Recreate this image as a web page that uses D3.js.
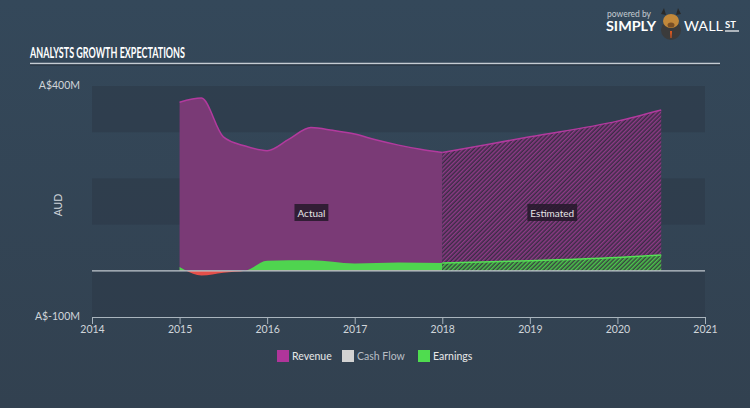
<!DOCTYPE html>
<html><head><meta charset="utf-8">
<script src="https://cdn.jsdelivr.net/npm/d3@7"></script>
<style>
html,body{margin:0;padding:0;background:#344454;}
svg{display:block;}
text{font-family:Lato,"Open Sans",sans-serif;}
</style></head>
<body>
<script>
// ---- data (A$ millions) ----
const revenueActualYears = [2015.0, 2015.25, 2015.5, 2015.75, 2016.0, 2016.25, 2016.5, 2016.75, 2017.0, 2017.25, 2017.5, 2017.75, 2018.0];
const revenueActual      = [365, 374, 290, 270, 260, 285, 310, 304, 296, 283, 272, 263, 256];
const earningsActualYears = [2015.0, 2015.25, 2015.5, 2015.75, 2016.0, 2016.5, 2017.0, 2017.5, 2018.0];
const earningsActual      = [8, -10, -4, 0, 22, 23, 16, 18, 17];
const estimateYears    = [2018.0, 2019.0, 2020.0, 2020.5];
const revenueEstimate  = [256, 290, 324, 348];
const earningsEstimate = [17, 22, 29, 34];
const xTicks = [2014, 2015, 2016, 2017, 2018, 2019, 2020, 2021];
const yTickLabels = ["A$400M", "A$-100M"];
const yTickValues = [400, -100];
const legendNames = ["Revenue", "Cash Flow", "Earnings"];
const legendColors = ["#b0359a", "#d2d2d2", "#4fdc4f"];

const W = 750, H = 408;
const svg = d3.select("body").append("svg").attr("width", W).attr("height", H);
const defs = svg.append("defs");

const bg = defs.append("linearGradient").attr("id","bg").attr("x1",0).attr("y1",0).attr("x2",0).attr("y2",1);
bg.append("stop").attr("offset","0%").attr("stop-color","#34485a");
bg.append("stop").attr("offset","100%").attr("stop-color","#324150");
svg.append("rect").attr("width",W).attr("height",H).attr("fill","url(#bg)");

function hatch(id, base, stripe){
  const p = defs.append("pattern").attr("id",id).attr("patternUnits","userSpaceOnUse")
    .attr("width",3).attr("height",3).attr("patternTransform","rotate(45)");
  p.append("rect").attr("width",3).attr("height",3).attr("fill",base);
  p.append("rect").attr("width",1.5).attr("height",3).attr("fill",stripe);
}
hatch("hatchRev","#3a2c45","#8e3a86");
hatch("hatchEarn","#38453f","#4cc84c");

const x = d3.scaleLinear().domain([2014, 2021]).range([92, 705]);
const y = d3.scaleLinear().domain([-100, 400]).range([317, 86]);

// bands
const bandEdges = [[400,300],[200,100],[0,-100]];
svg.append("g").selectAll("rect").data(bandEdges).join("rect")
  .attr("x", x(2014)).attr("width", x(2021)-x(2014))
  .attr("y", d=>y(d[0])).attr("height", d=>y(d[1])-y(d[0]))
  .attr("fill","#2c3947").attr("opacity",0.55);

const curve = d3.curveMonotoneX;
const revA = revenueActualYears.map((t,i)=>({t, v:revenueActual[i]}));
const earnA = earningsActualYears.map((t,i)=>({t, v:earningsActual[i]}));
const revE = estimateYears.map((t,i)=>({t, v:revenueEstimate[i]}));
const earnE = estimateYears.map((t,i)=>({t, v:earningsEstimate[i]}));

const area = d3.area().x(d=>x(d.t)).y0(y(0)).y1(d=>y(d.v)).curve(curve);
const line = d3.line().x(d=>x(d.t)).y(d=>y(d.v)).curve(curve);

// revenue
svg.append("path").datum(revA).attr("d",area).attr("fill","#7a3a76");
svg.append("path").datum(revE).attr("d",area).attr("fill","url(#hatchRev)");
svg.append("path").datum(revA).attr("d",line).attr("fill","none").attr("stroke","#b23a9e").attr("stroke-width",1.5);
svg.append("path").datum(revE).attr("d",line).attr("fill","none").attr("stroke","#b23a9e").attr("stroke-width",1.5);

// earnings: split positive / negative with clip
const zeroY = y(0);
defs.append("clipPath").attr("id","pos").append("rect").attr("x",0).attr("y",0).attr("width",W).attr("height",zeroY);
defs.append("clipPath").attr("id","neg").append("rect").attr("x",0).attr("y",zeroY).attr("width",W).attr("height",H-zeroY);
svg.append("path").datum(earnA).attr("d",area).attr("fill","#4fd44f").attr("clip-path","url(#pos)");
svg.append("path").datum(earnA).attr("d",area).attr("fill","#e5504a").attr("clip-path","url(#neg)");
svg.append("path").datum(earnE).attr("d",area).attr("fill","url(#hatchEarn)");
svg.append("path").datum(earnE).attr("d",line).attr("fill","none").attr("stroke","#55e055").attr("stroke-width",1.5);

// zero line
svg.append("line").attr("x1",x(2014)).attr("x2",x(2021)).attr("y1",zeroY).attr("y2",zeroY)
  .attr("stroke","#c2c9cf").attr("stroke-width",1.2);

// Actual / Estimated labels
function tag(cx, cy, txt){
  const g = svg.append("g");
  const t = g.append("text").attr("x",cx).attr("y",cy+4).attr("text-anchor","middle")
    .attr("font-size",10).attr("fill","#e6e6e6").text(txt);
  const bb = t.node().getBBox();
  g.insert("rect","text").attr("x",bb.x-3).attr("y",cy-8.5).attr("width",bb.width+6).attr("height",17)
    .attr("fill","#24192a").attr("opacity",0.85);
}
tag(x(2016.5)+0.5, 212.5, "Actual");
tag(x(2019.25)+0.5, 212.5, "Estimated");

// x axis
const xAxis = d3.axisBottom(x).tickValues(xTicks).tickFormat(d3.format("d")).tickSize(7).tickSizeOuter(0);
const gx = svg.append("g").attr("transform","translate(0,317)").call(xAxis);
gx.select(".domain").attr("stroke","#a9b4bd").attr("stroke-width",1.2);
gx.selectAll(".tick line").attr("stroke","#a9b4bd");
gx.selectAll(".tick text").attr("fill","#d0d5da").attr("font-size",10.5).attr("dy","0.55em")
  .attr("font-family","Lato,sans-serif");

// y labels
svg.append("g").selectAll("text").data(yTickValues).join("text")
  .attr("x",80).attr("y",d=>y(d)+3).attr("text-anchor","end")
  .attr("font-size",10.5).attr("fill","#d0d5da").text((d,i)=>yTickLabels[i]);
svg.append("text").attr("transform","translate(62,205) rotate(-90)").attr("text-anchor","middle")
  .attr("font-size",10.5).attr("fill","#d0d5da").text("AUD");

// title
svg.append("text").attr("x",30).attr("y",58).attr("font-family","'Liberation Sans Narrow','DejaVu Sans Condensed',sans-serif")
  .attr("font-weight","bold").attr("font-size",15).attr("fill","#ffffff")
  .attr("textLength",155).attr("lengthAdjust","spacingAndGlyphs").text("ANALYSTS GROWTH EXPECTATIONS");
svg.append("line").attr("x1",30).attr("x2",720).attr("y1",63.5).attr("y2",63.5).attr("stroke","#c5ccd2").attr("stroke-width",1.3);
svg.append("line").attr("x1",30).attr("x2",720).attr("y1",65).attr("y2",65).attr("stroke","#1f2a34").attr("stroke-width",0.8);

// legend
const lg = svg.append("g");
const legX = [277, 342, 418];
legendNames.forEach((n,i)=>{
  lg.append("rect").attr("x",legX[i]).attr("y",350).attr("width",12).attr("height",12).attr("fill",legendColors[i]);
  lg.append("text").attr("x",legX[i]+15).attr("y",360).attr("font-size",10.5)
    .attr("fill", i===1 ? "#b8bec4" : "#e8e8e8").text(n);
});

// logo
const logo = svg.append("g");
logo.append("text").attr("x",607).attr("y",17).attr("font-size",8.5).attr("fill","#c5cbd1").text("powered by");
logo.append("text").attr("x",606).attr("y",31).attr("font-size",12.5).attr("font-weight","bold")
  .attr("fill","#ffffff").attr("textLength",50).attr("lengthAdjust","spacingAndGlyphs").text("SIMPLY");
logo.append("circle").attr("cx",671).attr("cy",30).attr("r",10).attr("fill","#3b3b3b");
logo.append("ellipse").attr("cx",671).attr("cy",21).attr("rx",8).attr("ry",7).attr("fill","#c2883a");
logo.append("path").attr("d","M661,14 L664,8 L666,15 Z M681,14 L678,8 L676,15 Z").attr("fill","#2a2a2a");
logo.append("ellipse").attr("cx",671).attr("cy",25).attr("rx",3.5).attr("ry",2.5).attr("fill","#7a4f25");
logo.append("path").attr("d","M670,31 L672,31 L671.5,38 L670.5,38 Z").attr("fill","#e05a20");
logo.append("text").attr("x",684).attr("y",31).attr("font-size",12.5).attr("fill","#ffffff")
  .attr("textLength",39).attr("lengthAdjust","spacingAndGlyphs").text("WALL");
logo.append("text").attr("x",725).attr("y",28).attr("font-size",9.5).attr("font-weight","bold").attr("fill","#ffffff").text("ST");
logo.append("line").attr("x1",725).attr("x2",739).attr("y1",31).attr("y2",31).attr("stroke","#ffffff").attr("stroke-width",1.2);
</script>
</body></html>
